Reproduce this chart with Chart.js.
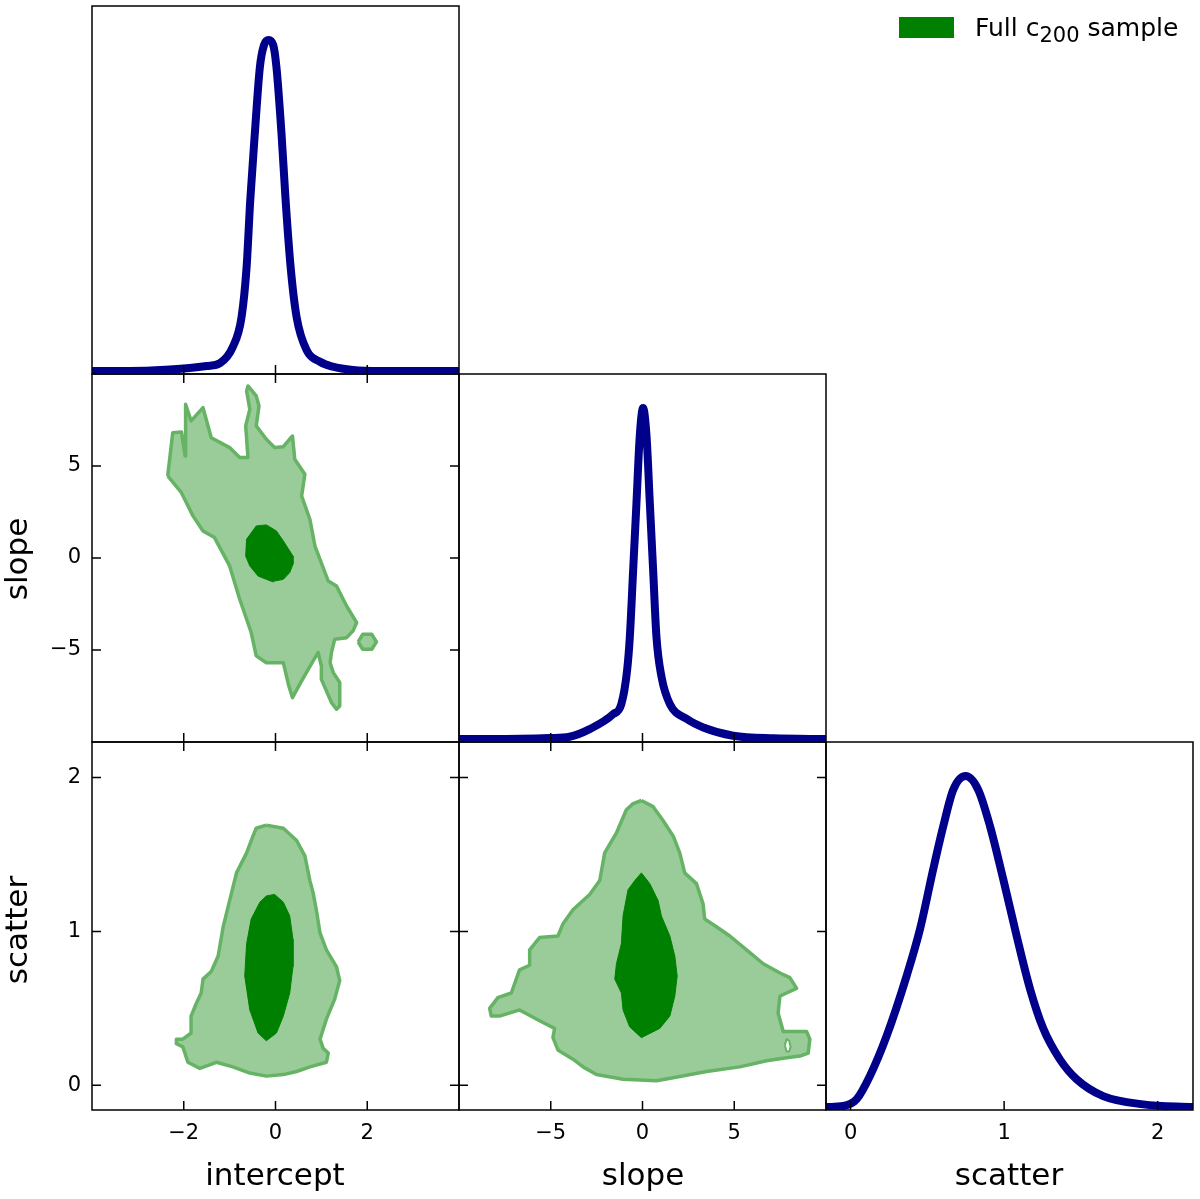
<!DOCTYPE html>
<html>
<head>
<meta charset="utf-8">
<title>Corner plot</title>
<script src="https://cdn.jsdelivr.net/npm/chart.js@4.4.1/dist/chart.umd.min.js"></script>
<style>
  html, body { margin: 0; padding: 0; background: #fff; }
  #figure { position: relative; width: 1200px; height: 1199px; overflow: hidden; font-family: "DejaVu Sans", sans-serif; color: #000; }
  #figure canvas { position: absolute; left: 0; top: 0; }
  .axis-title { position: absolute; font-size: 31px; line-height: 31px; white-space: nowrap; }
  .axis-title.bottom { top: 1159px; transform: translateX(-50%); }
  .axis-title.left { left: 16px; transform: translate(-50%, -50%) rotate(-90deg); }
  #legend { position: absolute; left: 899px; top: 17px; display: flex; align-items: center; height: 21px; }
  #legend .swatch { width: 55px; height: 21px; background: #008000; }
  #legend .label { margin-left: 21px; font-size: 25px; line-height: 21px; white-space: nowrap; }
  #legend sub { font-size: 21px; vertical-align: -6px; line-height: 0; }
</style>
</head>
<body>
<div id="figure">
  <canvas id="c11" width="1200" height="1199"></canvas>
  <canvas id="c21" width="1200" height="1199"></canvas>
  <canvas id="c22" width="1200" height="1199"></canvas>
  <canvas id="c31" width="1200" height="1199"></canvas>
  <canvas id="c32" width="1200" height="1199"></canvas>
  <canvas id="c33" width="1200" height="1199"></canvas>
  <div class="axis-title bottom" style="left:275px">intercept</div>
  <div class="axis-title bottom" style="left:643px">slope</div>
  <div class="axis-title bottom" style="left:1009px">scatter</div>
  <div class="axis-title left" style="top:559px">slope</div>
  <div class="axis-title left" style="top:930px">scatter</div>
  <div id="legend"><span class="swatch"></span><span class="label">Full c<sub>200</sub> sample</span></div>
</div>
<script>
// tick values
const interceptTicks = [-2, 0, 2];
const slopeTicks = [-5, 0, 5];
const scatterTicks = [0, 1, 2];

// 1D marginals (normalised to peak = 1)
const interceptGrid = [-4.0, -2.82, -1.87, -1.50, -1.21, -0.93, -0.74, -0.63, -0.55, -0.45, -0.34, -0.25, -0.15, -0.05, 0.02, 0.13, 0.22, 0.33, 0.46, 0.68, 0.97, 1.25, 1.69, 2.28, 4.0];
const interceptDensity = [0, 0.001, 0.009, 0.015, 0.024, 0.073, 0.163, 0.314, 0.517, 0.719, 0.919, 0.985, 1.0, 0.985, 0.919, 0.719, 0.517, 0.314, 0.163, 0.063, 0.028, 0.013, 0.003, 0.0, 0];

const slopeGrid = [-10, -8.33, -5.06, -3.97, -2.88, -1.60, -1.15, -0.84, -0.69, -0.51, -0.33, -0.15, 0.03, 0.22, 0.40, 0.58, 0.76, 1.04, 1.49, 2.40, 3.31, 4.94, 7.13, 10];
const slopeDensity = [0, 0, 0.003, 0.007, 0.030, 0.075, 0.106, 0.207, 0.309, 0.510, 0.712, 0.915, 1.0, 0.915, 0.712, 0.510, 0.309, 0.187, 0.106, 0.061, 0.035, 0.010, 0.002, 0];

const scatterGrid = [-0.156, -0.048, 0.040, 0.126, 0.235, 0.365, 0.452, 0.538, 0.604, 0.669, 0.749, 0.831, 0.908, 0.994, 1.081, 1.168, 1.255, 1.363, 1.472, 1.645, 1.906, 2.23];
const scatterDensity = [0, 0.003, 0.024, 0.094, 0.215, 0.396, 0.537, 0.718, 0.849, 0.959, 1.0, 0.959, 0.849, 0.689, 0.518, 0.358, 0.237, 0.144, 0.084, 0.033, 0.008, 0];

// 2D contours [x, y]
const interceptSlopeOuter = [[-2.35,4.46],[-2.24,6.81],[-2.05,6.85],[-1.97,5.55],[-1.96,8.35],[-1.84,7.45],[-1.58,8.17],[-1.40,6.54],[-1.00,6.00],[-0.78,5.46],[-0.60,5.46],[-0.65,7.18],[-0.56,8.08],[-0.63,9.08],[-0.60,9.35],[-0.42,8.81],[-0.36,8.26],[-0.42,7.18],[-0.20,6.45],[-0.02,6.00],[0.17,6.05],[0.37,6.63],[0.42,5.37],[0.64,4.55],[0.57,3.37],[0.75,2.10],[0.86,0.65],[1.15,-1.25],[1.33,-1.52],[1.55,-2.61],[1.77,-3.51],[1.69,-3.96],[1.55,-4.33],[1.29,-4.42],[1.22,-5.14],[1.19,-5.69],[1.26,-6.23],[1.40,-6.77],[1.40,-8.04],[1.33,-8.22],[1.22,-7.86],[1.00,-6.59],[1.00,-5.87],[0.93,-5.14],[0.82,-5.59],[0.57,-6.68],[0.37,-7.59],[0.28,-6.86],[0.17,-5.69],[-0.20,-5.69],[-0.42,-5.32],[-0.53,-4.05],[-0.78,-2.24],[-1.00,-0.43],[-1.33,1.11],[-1.58,1.47],[-1.80,2.29],[-2.05,3.55]];
const interceptSlopeIsland = [[1.80,-4.56],[1.90,-4.15],[2.10,-4.15],[2.20,-4.56],[2.10,-4.96],[1.90,-4.96]];
const interceptSlopeInner = [[-0.63,1.02],[-0.42,1.74],[-0.20,1.80],[0.02,1.47],[0.17,0.93],[0.38,0.11],[0.38,-0.34],[0.31,-0.79],[0.17,-1.16],[-0.02,-1.25],[-0.05,-1.30],[-0.20,-1.16],[-0.38,-0.98],[-0.56,-0.43],[-0.65,0.11]];

const interceptScatterOuter = [[-0.20,1.69],[0.17,1.67],[0.46,1.59],[0.64,1.49],[0.75,1.33],[0.82,1.25],[0.89,1.14],[0.97,0.99],[1.11,0.88],[1.33,0.77],[1.40,0.68],[1.29,0.56],[1.11,0.43],[0.97,0.30],[1.04,0.24],[1.15,0.21],[1.11,0.15],[0.75,0.12],[0.46,0.09],[0.17,0.07],[-0.20,0.06],[-0.56,0.08],[-0.93,0.12],[-1.29,0.15],[-1.65,0.11],[-1.91,0.15],[-2.02,0.25],[-2.16,0.27],[-2.16,0.30],[-2.02,0.30],[-1.84,0.34],[-1.84,0.45],[-1.73,0.53],[-1.62,0.60],[-1.58,0.69],[-1.40,0.74],[-1.25,0.84],[-1.14,1.03],[-1.00,1.20],[-0.85,1.38],[-0.63,1.51],[-0.49,1.62],[-0.42,1.67]];
const interceptScatterInner = [[-0.20,1.23],[-0.02,1.24],[0.17,1.19],[0.31,1.10],[0.38,0.95],[0.38,0.77],[0.31,0.60],[0.17,0.45],[0.02,0.34],[-0.20,0.29],[-0.38,0.34],[-0.56,0.49],[-0.67,0.71],[-0.63,0.92],[-0.53,1.08],[-0.34,1.19]];

const slopeScatterOuter = [[-0.06,1.85],[0.58,1.81],[1.12,1.72],[1.67,1.62],[2.03,1.51],[2.30,1.38],[2.94,1.31],[3.30,1.18],[3.39,1.08],[4.03,1.03],[4.76,0.97],[5.67,0.88],[6.58,0.79],[7.49,0.73],[8.03,0.70],[8.40,0.63],[7.85,0.60],[7.49,0.58],[7.39,0.47],[7.67,0.35],[8.94,0.35],[9.12,0.30],[9.03,0.21],[8.58,0.19],[7.85,0.18],[6.76,0.16],[5.30,0.12],[3.49,0.09],[1.67,0.05],[0.76,0.03],[-1.06,0.04],[-2.51,0.07],[-3.24,0.12],[-3.79,0.17],[-4.61,0.23],[-4.88,0.31],[-4.79,0.37],[-5.61,0.42],[-6.70,0.49],[-7.79,0.45],[-8.24,0.45],[-8.33,0.50],[-7.88,0.57],[-7.15,0.60],[-6.70,0.75],[-6.15,0.78],[-6.15,0.88],[-5.61,0.96],[-4.61,0.97],[-4.33,1.05],[-3.79,1.14],[-2.88,1.24],[-2.33,1.33],[-2.06,1.51],[-1.42,1.64],[-0.88,1.79],[-0.51,1.83]];
const slopeScatterHole = [[7.76,0.26],[7.85,0.30],[7.99,0.29],[8.07,0.25],[7.99,0.22],[7.85,0.22]];
const slopeScatterInner = [[-0.06,1.38],[0.40,1.31],[0.85,1.20],[1.03,1.10],[1.49,0.97],[1.76,0.84],[1.89,0.71],[1.76,0.58],[1.49,0.45],[0.94,0.37],[-0.06,0.31],[-0.70,0.38],[-1.06,0.49],[-1.15,0.60],[-1.51,0.69],[-1.42,0.79],[-1.15,0.92],[-1.06,1.10],[-0.79,1.27],[-0.42,1.33]];

// panel edges in page pixels
const COLS = [92, 459, 826, 1193];
const ROWS = [6, 374, 742, 1110];
const W = 1200, H = 1199;
const TICK = 9;
const Y_LABEL_W = 80;   // room kept for y tick labels
const X_LABEL_H = 45;   // room kept for x tick labels

const NAVY = '#00008b';
const DARK = '#008000';
const LIGHT = '#99cc99';
const EDGE = '#66b366';

function fmt(v) {
    return v < 0 ? '\u2212' + Math.abs(v) : String(v);
}

function axis(min, max, ticks, showLabels, isX) {
    const size = showLabels ? (isX ? X_LABEL_H : Y_LABEL_W) : 0;
    return {
        type: 'linear',
        min: min,
        max: max,
        grid: { display: false, drawTicks: false },
        border: { display: false },
        ticks: {
            display: showLabels,
            autoSkip: false,
            padding: isX ? 11 : 11,
            color: '#000',
            font: { family: 'DejaVu Sans', size: 21 },
            callback: fmt
        },
        afterBuildTicks: s => { s.ticks = ticks.map(v => ({ value: v })); },
        afterFit: s => { if (isX) s.height = size; else s.width = size; }
    };
}

// frame and inward ticks, drawn with the chart's own scales
function framePlugin(xTicks, yTicks, xSides, ySides) {
    return {
        id: 'frameTicks',
        afterDatasetsDraw(chart) {
            const { ctx, chartArea: a, scales } = chart;
            ctx.save();
            ctx.strokeStyle = '#000';
            ctx.lineWidth = 1.5;
            ctx.strokeRect(a.left, a.top, a.right - a.left, a.bottom - a.top);
            ctx.beginPath();
            xTicks.forEach(v => {
                const px = scales.x.getPixelForValue(v);
                if (xSides.includes('bottom')) { ctx.moveTo(px, a.bottom); ctx.lineTo(px, a.bottom - TICK); }
                if (xSides.includes('top')) { ctx.moveTo(px, a.top); ctx.lineTo(px, a.top + TICK); }
            });
            yTicks.forEach(v => {
                const py = scales.y.getPixelForValue(v);
                if (ySides.includes('left')) { ctx.moveTo(a.left, py); ctx.lineTo(a.left + TICK, py); }
                if (ySides.includes('right')) { ctx.moveTo(a.right, py); ctx.lineTo(a.right - TICK, py); }
            });
            ctx.stroke();
            ctx.restore();
        }
    };
}

// layout padding so the plot area lands on the panel box
function padding(col, row, showX, showY) {
    return {
        left: COLS[col] - (showY ? Y_LABEL_W : 0),
        top: ROWS[row],
        right: W - COLS[col + 1],
        bottom: H - ROWS[row + 1] - (showX ? X_LABEL_H : 0)
    };
}

function toPoints(xs, ys) {
    return xs.map((x, i) => ({ x: x, y: ys[i] }));
}

function closed(pairs) {
    const pts = pairs.map(p => ({ x: p[0], y: p[1] }));
    pts.push({ x: pairs[0][0], y: pairs[0][1] });
    return pts;
}

function region(pairs, fillColor, edgeColor, width, order) {
    return {
        data: closed(pairs),
        showLine: true,
        fill: 'shape',
        backgroundColor: fillColor,
        borderColor: edgeColor,
        borderWidth: width,
        borderJoinStyle: 'round',
        pointRadius: 0,
        tension: 0,
        order: order
    };
}

function baseOptions(col, row, xAxis, yAxis, showX, showY) {
    return {
        responsive: false,
        animation: false,
        events: [],
        layout: { padding: padding(col, row, showX, showY) },
        plugins: { legend: { display: false }, tooltip: { enabled: false } },
        scales: { x: xAxis, y: yAxis }
    };
}

function marginal(id, col, row, xs, ys, xRange, xTicks, showLabels) {
    new Chart(document.getElementById(id), {
        type: 'scatter',
        data: {
            datasets: [{
                data: toPoints(xs, ys),
                showLine: true,
                borderColor: NAVY,
                borderWidth: 8,
                borderCapStyle: 'round',
                borderJoinStyle: 'round',
                pointRadius: 0,
                cubicInterpolationMode: 'monotone'
            }]
        },
        options: baseOptions(col, row,
            axis(xRange[0], xRange[1], xTicks, showLabels, true),
            { display: false, type: 'linear', min: -0.009, max: 1.103 },
            showLabels, false),
        plugins: [framePlugin(xTicks, [], ['bottom'], [])]
    });
}

function joint(id, col, row, datasets, xRange, xTicks, yRange, yTicks, showX, showY) {
    new Chart(document.getElementById(id), {
        type: 'scatter',
        data: { datasets: datasets },
        options: baseOptions(col, row,
            axis(xRange[0], xRange[1], xTicks, showX, true),
            axis(yRange[0], yRange[1], yTicks, showY, false),
            showX, showY),
        plugins: [framePlugin(xTicks, yTicks, ['bottom', 'top'], ['left', 'right'])]
    });
}

const interceptRange = [-4, 4];
const slopeRange = [-10, 10];
const scatterRange = [-0.16, 2.23];

marginal('c11', 0, 0, interceptGrid, interceptDensity, interceptRange, interceptTicks, false);
marginal('c22', 1, 1, slopeGrid, slopeDensity, slopeRange, slopeTicks, false);
marginal('c33', 2, 2, scatterGrid, scatterDensity, scatterRange, scatterTicks, true);

joint('c21', 0, 1, [
    region(interceptSlopeInner, DARK, DARK, 1, 0),
    region(interceptSlopeOuter, LIGHT, EDGE, 3.5, 1),
    region(interceptSlopeIsland, LIGHT, EDGE, 3.5, 1)
], interceptRange, interceptTicks, slopeRange, slopeTicks, false, true);

joint('c31', 0, 2, [
    region(interceptScatterInner, DARK, DARK, 1, 0),
    region(interceptScatterOuter, LIGHT, EDGE, 3.5, 1)
], interceptRange, interceptTicks, scatterRange, scatterTicks, true, true);

joint('c32', 1, 2, [
    region(slopeScatterInner, DARK, DARK, 1, 0),
    region(slopeScatterHole, '#ffffff', EDGE, 2, 0.5),
    region(slopeScatterOuter, LIGHT, EDGE, 3.5, 1)
], slopeRange, slopeTicks, scatterRange, scatterTicks, true, false);
</script>
</body>
</html>
